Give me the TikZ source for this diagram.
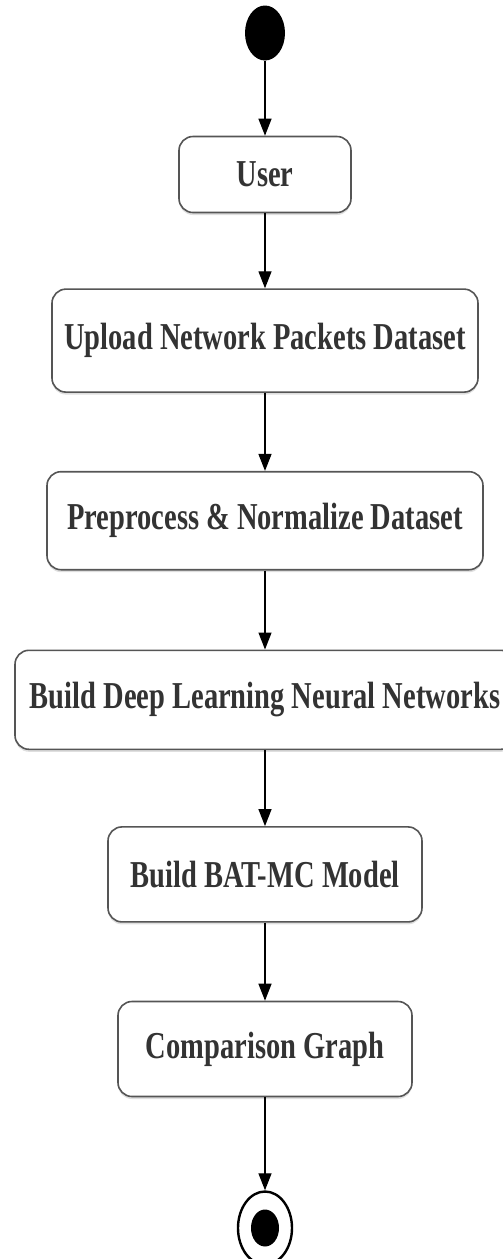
\documentclass[tikz,border=0pt]{standalone}
\usepackage{fontspec}
\setmainfont{Liberation Serif}[FakeStretch=0.75]
\usetikzlibrary{arrows.meta,positioning,shapes.geometric,shadows}
\definecolor{actborder}{HTML}{555555}
\definecolor{acttext}{HTML}{333333}

\begin{document}
\begin{tikzpicture}[x=1pt, y=-1pt,
  activity/.style={rectangle, rounded corners=14pt, draw=actborder, line width=1.6pt,
                   fill=white, drop shadow={opacity=0.25, shadow xshift=0pt, shadow yshift=-2.5pt},
                   align=center, text=acttext, inner sep=0pt,
                   font=\fontsize{38}{42}\selectfont\bfseries},
  arr/.style={-{Triangle[length=17pt,width=13pt]}, line width=1.3pt},
  node distance=75pt
]
  \useasboundingbox (0,0) rectangle (503,1259);
  \node[ellipse, fill=black, inner sep=0pt, minimum width=40pt, minimum height=55pt] (start) at (265,33) {};
  \node[activity, minimum width=172pt, minimum height=76pt]  (usr) [below=75pt of start] {User};
  \node[activity, minimum width=426pt, minimum height=103pt] (upl) [below=of usr] {Upload Network Packets Dataset};
  \node[activity, minimum width=436pt, minimum height=98pt]  (pre) [below=78pt of upl] {Preprocess \& Normalize Dataset};
  \node[activity, minimum width=500pt, minimum height=99pt]  (dnn) [below=79pt of pre] {Build Deep Learning Neural Networks};
  \node[activity, minimum width=314pt, minimum height=95pt]  (bat) [below=76pt of dnn] {Build BAT-MC Model};
  \node[activity, minimum width=294pt, minimum height=95pt]  (cmp) [below=78pt of bat] {Comparison Graph};
  \node[ellipse, draw, line width=2.4pt, inner sep=0pt, minimum width=54pt, minimum height=73pt] (stop) [below=93pt of cmp] {};
  \node[ellipse, fill=black, inner sep=0pt, minimum width=28pt, minimum height=37pt] (stopdot) at (stop.center) {};
  % flow
  \draw[arr] (start) -- (usr);
  \draw[arr] (usr) -- (upl);
  \draw[arr] (upl) -- (pre);
  \draw[arr] (pre) -- (dnn);
  \draw[arr] (dnn) -- (bat);
  \draw[arr] (bat) -- (cmp);
  \draw[arr] (cmp) -- (stop);
\end{tikzpicture}
\end{document}
